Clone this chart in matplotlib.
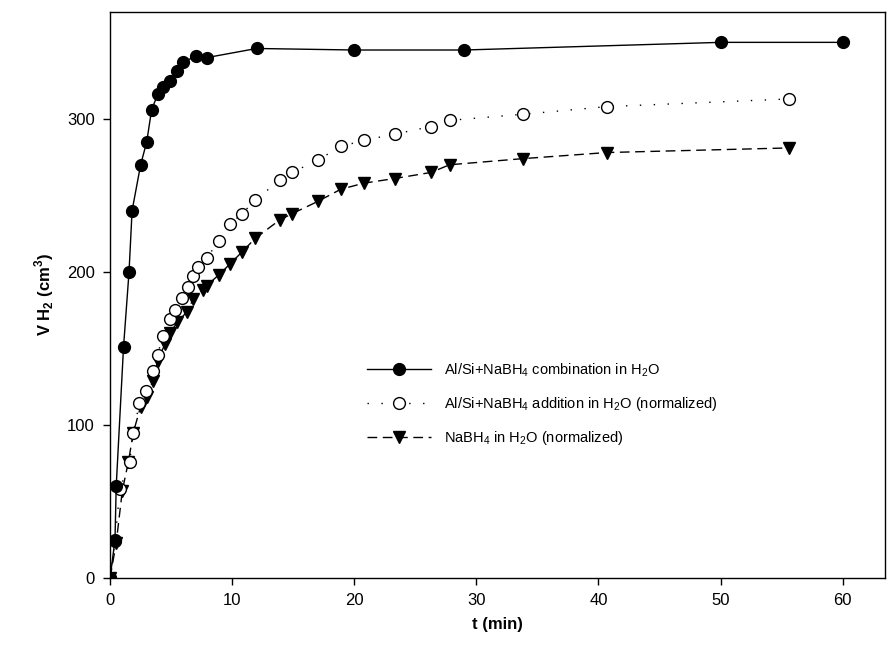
import matplotlib
matplotlib.use("Agg")
import matplotlib.pyplot as plt

plt.rcParams["font.family"] = ["Liberation Sans", "DejaVu Sans"]
plt.rcParams["mathtext.fontset"] = "custom"
plt.rcParams["mathtext.rm"] = "Liberation Sans"
plt.rcParams["mathtext.bf"] = "Liberation Sans:bold"

# Al/Si + NaBH4 combination in H2O
t_comb = [0, 0.4, 0.5, 1.1, 1.55, 1.8, 2.5, 3.0, 3.4, 3.9, 4.3, 4.9, 5.5, 6.0,
          7.0, 7.9, 12, 20, 29, 50, 60]
v_comb = [0, 25, 60, 151, 200, 240, 270, 285, 306, 316, 321, 325, 331, 337,
          341, 340, 346, 345, 345, 350, 350]

# Al/Si + NaBH4 addition in H2O (normalized)
t_add = [0, 0.4, 0.8, 1.6, 1.9, 2.4, 2.9, 3.5, 3.9, 4.3, 4.9, 5.3, 5.9, 6.4,
         6.8, 7.2, 7.9, 8.9, 9.8, 10.8, 11.9, 13.9, 14.9, 17.0, 18.9, 20.8,
         23.3, 26.3, 27.8, 33.8, 40.7, 55.6]
v_add = [0, 24, 58, 76, 95, 114, 122, 135, 146, 158, 169, 175, 183, 190,
         197, 203, 209, 220, 231, 238, 247, 260, 265, 273, 282, 286,
         290, 295, 299, 303, 308, 313]

# NaBH4 in H2O (normalized)
t_nabh = [0, 0.5, 1.0, 1.5, 1.9, 2.5, 3.0, 3.5, 3.9, 4.5, 4.9, 5.5, 6.3, 6.8,
          7.6, 7.9, 8.9, 9.8, 10.8, 11.9, 13.9, 14.9, 17.0, 18.9, 20.8,
          23.3, 26.3, 27.8, 33.8, 40.7, 55.6]
v_nabh = [0, 23, 57, 76, 95, 112, 118, 129, 142, 153, 160, 167, 174, 182,
          188, 191, 198, 205, 213, 222, 234, 238, 246, 254, 258,
          261, 265, 270, 274, 278, 281]

fig = plt.figure(figsize=(8.88, 6.53), dpi=100)
ax = fig.add_axes([0.124, 0.115, 0.873, 0.867])

ax.plot(t_nabh, v_nabh, color="black", lw=1.0, ls=(0, (7, 4)),
        marker="v", ms=8.5, mfc="black", mec="black", zorder=3,
        label="NaBH$_4$ in H$_2$O (normalized)")
ax.plot(t_add, v_add, color="black", lw=1.0, ls=(0, (1, 9)),
        marker="o", ms=8.5, mfc="white", mec="black", mew=1.0, zorder=4,
        label="Al/Si+NaBH$_4$ addition in H$_2$O (normalized)")
ax.plot(t_comb, v_comb, color="black", lw=1.0, ls="-",
        marker="o", ms=8.5, mfc="black", mec="black", zorder=5,
        label="Al/Si+NaBH$_4$ combination in H$_2$O")

ax.set_xlim(0, 63.5)
ax.set_ylim(0, 370)
ax.set_xticks([0, 10, 20, 30, 40, 50, 60])
ax.set_yticks([0, 100, 200, 300])
ax.tick_params(direction="out", length=5, width=1, labelsize=12, pad=6)
for s in ax.spines.values():
    s.set_linewidth(1.0)

ax.set_xlabel("t (min)", fontsize=12, fontweight="bold", labelpad=6)
ax.set_ylabel(r"V H$_\mathbf{2}$ (cm$^\mathbf{3}$)", fontsize=12,
              fontweight="bold", labelpad=8)

handles, labels = ax.get_legend_handles_labels()
fig.legend(handles[::-1], labels[::-1], loc="upper left",
           bbox_to_anchor=(0.405, 0.458), frameon=False, numpoints=1,
           fontsize=10.5, handlelength=4.4, handletextpad=0.9,
           labelspacing=1.1, borderpad=0)

fig.savefig("out.png", dpi=100, facecolor="white")
